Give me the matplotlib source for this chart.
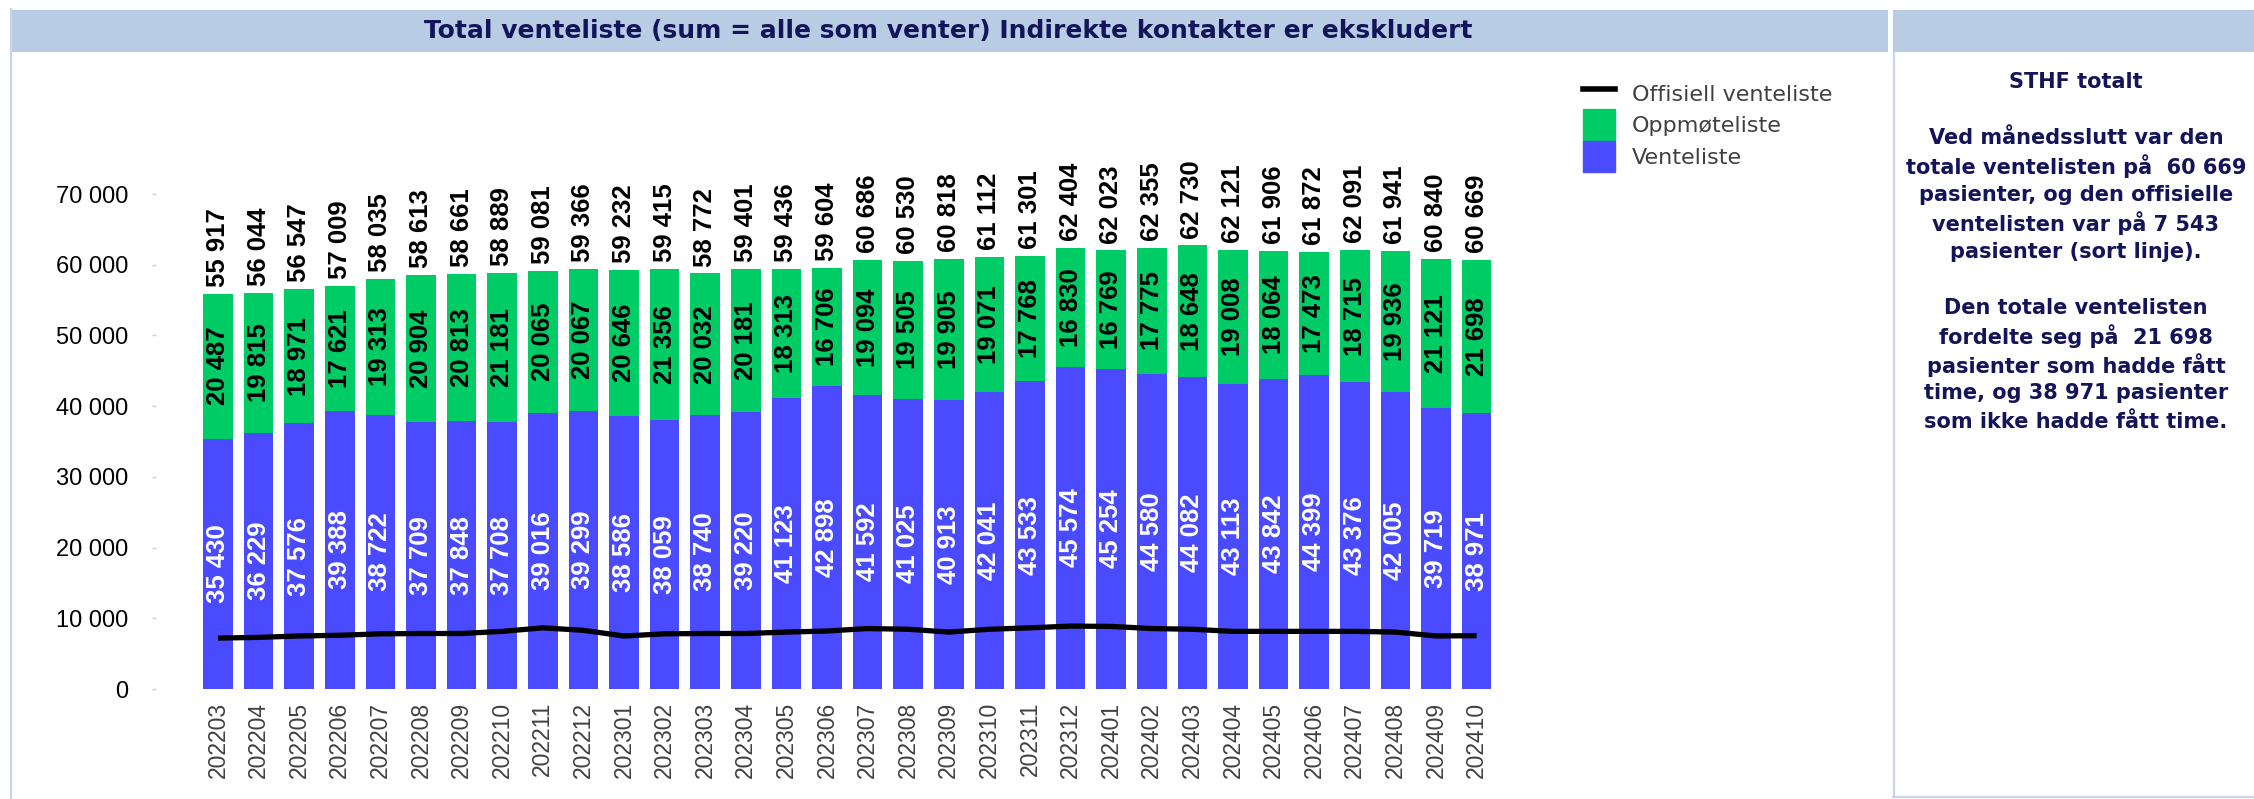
import matplotlib
matplotlib.use('Agg')
import matplotlib.pyplot as plt
from matplotlib import font_manager
from matplotlib.patches import Rectangle, Patch
from matplotlib.lines import Line2D
import numpy as np

# ---------------- data ----------------
months = ['202203', '202204', '202205', '202206', '202207', '202208', '202209', '202210',
          '202211', '202212', '202301', '202302', '202303', '202304', '202305', '202306',
          '202307', '202308', '202309', '202310', '202311', '202312', '202401', '202402',
          '202403', '202404', '202405', '202406', '202407', '202408', '202409', '202410']
venteliste = [35430, 36229, 37576, 39388, 38722, 37709, 37848, 37708, 39016, 39299, 38586,
              38059, 38740, 39220, 41123, 42898, 41592, 41025, 40913, 42041, 43533, 45574,
              45254, 44580, 44082, 43113, 43842, 44399, 43376, 42005, 39719, 38971]
oppmoteliste = [20487, 19815, 18971, 17621, 19313, 20904, 20813, 21181, 20065, 20067, 20646,
                21356, 20032, 20181, 18313, 16706, 19094, 19505, 19905, 19071, 17768, 16830,
                16769, 17775, 18648, 19008, 18064, 17473, 18715, 19936, 21121, 21698]
offisiell = [7200, 7300, 7500, 7600, 7800, 7850, 7850, 8150, 8650, 8300, 7500, 7800, 7850,
             7850, 8050, 8200, 8550, 8450, 8050, 8450, 8650, 8900, 8850, 8550, 8450, 8150,
             8150, 8150, 8150, 8050, 7500, 7543]
series_names = ['Offisiell venteliste', 'Oppmøteliste', 'Venteliste']
yticks = [0, 10000, 20000, 30000, 40000, 50000, 60000, 70000]
title = 'Total venteliste (sum = alle som venter) Indirekte kontakter er ekskludert'
panel_lines = ['STHF totalt', '',
               'Ved månedsslutt var den',
               'totale ventelisten på  60 669',
               'pasienter, og den offisielle',
               'ventelisten var på 7 543',
               'pasienter (sort linje).', '',
               'Den totale ventelisten',
               'fordelte seg på  21 698',
               'pasienter som hadde fått',
               'time, og 38 971 pasienter',
               'som ikke hadde fått time.']

# ---------------- style ----------------
GREEN = '#00CC66'
BLUE = '#4A4AFF'
NAVY = '#14145A'
BAND = '#B8CCE4'
BORDER = '#C6D6EC'

available = {f.name for f in font_manager.fontManager.ttflist}
def pick(*names):
    for n in names:
        if n in available:
            return n
    return 'DejaVu Sans'

ARIAL = pick('Liberation Sans', 'Arimo', 'DejaVu Sans')
lab_size = 18.5

def fmt(v):
    return f"{v:,}".replace(',', ' ')

W, H = 2254, 799
fig = plt.figure(figsize=(W / 100, H / 100), dpi=100)
def fx(px): return px / W
def fy(py): return 1 - py / H

# axes geometry (pixels)
ax_l, ax_r, ax_b, ax_t = 156, 1546.6, 689, 60
ax = fig.add_axes([fx(ax_l), fy(ax_b), (ax_r - ax_l) / W, (ax_b - ax_t) / H])

x = np.arange(len(months))
v = np.array(venteliste)
o = np.array(oppmoteliste)
tot = v + o

ax.bar(x, v, width=0.73, color=BLUE, zorder=2)
ax.bar(x, o, bottom=v, width=0.73, color=GREEN, zorder=2)
ax.plot(x, offisiell, color='black', lw=3.8, zorder=4, solid_joinstyle='round',
        solid_capstyle='butt')

for xi, vi, oi, ti in zip(x, v, o, tot):
    ax.text(xi, vi / 2, fmt(vi), rotation=90, ha='center', va='center', color='white',
            fontsize=lab_size, fontweight='bold', family=ARIAL, zorder=5)
    ax.text(xi, vi + oi / 2, fmt(oi), rotation=90, ha='center', va='center', color='black',
            fontsize=lab_size, fontweight='bold', family=ARIAL, zorder=5)
    ax.annotate(fmt(ti), (xi, ti), xytext=(0, 5), textcoords='offset points', rotation=90,
                ha='center', va='bottom', color='black', fontsize=lab_size,
                fontweight='bold', family=ARIAL, zorder=5)

ax.set_xlim((ax_l - 218) / 40.6, (ax_r - 218) / 40.6)
ax.set_ylim(0, (ax_b - ax_t) / 70.7 * 10000)
for s in ax.spines.values():
    s.set_visible(False)
ax.set_yticks(yticks)
ax.set_yticklabels([fmt(t) for t in yticks], family=ARIAL, fontsize=17, color='black')
ax.tick_params(axis='y', length=3, width=1, color='#D0D0D0', pad=17)
ax.set_xticks(x)
ax.set_xticklabels(months, rotation=90, family=ARIAL, fontsize=16.5, color='#404040')
ax.tick_params(axis='x', length=0, pad=9)

# legend
handles = [Line2D([], [], color='black', lw=4), Patch(color=GREEN), Patch(color=BLUE)]
fig.legend(handles, series_names, loc='upper left', bbox_to_anchor=(fx(1583), fy(78)),
           frameon=False, handlelength=1.45, handleheight=1.8, labelspacing=0,
           handletextpad=0.75, borderpad=0, borderaxespad=0,
           prop={'family': 'DejaVu Sans', 'size': 16}, labelcolor='#404040')

# title band and right panel
fig.add_artist(Rectangle((fx(12), fy(52)), (1888 - 12) / W, 42 / H, transform=fig.transFigure,
                         facecolor=BAND, edgecolor='none'))
fig.add_artist(Rectangle((fx(1893), fy(52)), (W - 1893) / W, 42 / H, transform=fig.transFigure,
                         facecolor=BAND, edgecolor='none'))
fig.text(fx(948), fy(31), title, ha='center', va='center', fontsize=18, fontweight='bold',
         family='DejaVu Sans', color=NAVY)
fig.add_artist(Line2D([fx(10.5), fx(10.5)], [fy(9), fy(799)], transform=fig.transFigure,
                      color=BORDER, lw=1.6))
fig.add_artist(Line2D([fx(1894), fx(1894)], [fy(52), fy(797)], transform=fig.transFigure,
                      color=BORDER, lw=1.6))
fig.add_artist(Line2D([fx(1893), fx(W)], [fy(797), fy(797)], transform=fig.transFigure,
                      color=BORDER, lw=1.6))

y_pos = 82
for line in panel_lines:
    if line:
        fig.text(fx(2076), fy(y_pos), line, ha='center', va='center', fontsize=15,
                 fontweight='bold', family='DejaVu Sans', color=NAVY)
    y_pos += 28.5 if line else 27.5

fig.savefig('out.png', dpi=100, facecolor='white')
